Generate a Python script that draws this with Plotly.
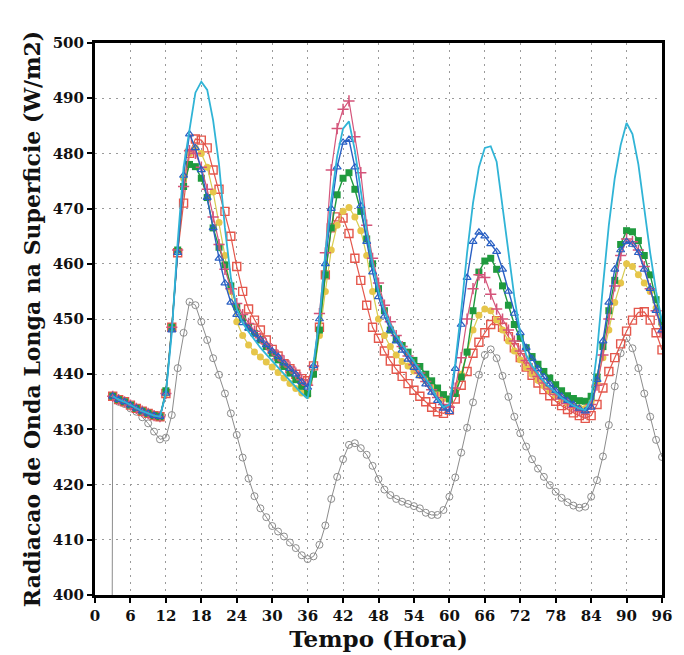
import plotly.graph_objects as go

hours = list(range(3, 97))
gray_hours = [2] + hours

start = [436.0, 435.4, 435.0, 434.4, 433.8, 433.3, 432.9, 432.5, 432.3]

cyan = start + [
    436.5, 447.5, 464.0, 477.5, 484.5, 491.0, 493.0, 491.5, 486.0, 478.0,
    466.5, 457.5, 451.8, 449.3, 447.7, 446.2, 444.8, 443.6, 442.4, 441.2,
    440.0, 439.0, 437.8, 436.5, 435.6, 442.0, 450.0, 462.0, 471.5, 479.5,
    484.5, 485.8, 480.5, 473.0, 466.0, 460.0, 455.0, 451.5, 449.0, 447.0,
    445.3, 443.8, 442.3, 440.8, 439.2, 437.6, 435.5, 434.0, 434.5, 442.0,
    451.5, 462.0, 471.0, 477.5, 481.0, 481.3, 478.5, 470.0, 461.5, 454.0,
    447.5, 443.5, 441.5, 440.0, 438.7, 437.6, 436.6, 435.7, 435.0, 434.3,
    433.8, 433.5, 435.5, 444.0, 456.0, 467.0, 475.5, 481.5, 485.5, 483.5,
    478.0, 469.5, 462.0, 455.0, 449.5]

blue = start + [
    436.5, 448.0, 462.0, 476.0, 483.5, 481.0, 477.0, 472.0, 466.5, 461.0,
    456.5, 453.0, 450.8, 449.3, 448.3, 447.3, 446.3, 445.3, 444.2, 443.2,
    442.0, 441.0, 440.0, 438.6, 437.6, 441.5, 450.0, 460.0, 470.0, 477.5,
    482.0, 482.5, 477.5, 470.5, 464.0, 458.5, 454.0, 450.5, 448.0, 446.0,
    444.3, 442.7, 441.2, 439.7, 438.2, 436.7, 435.2, 433.8, 433.2, 441.0,
    449.0, 457.5, 464.0, 465.7, 465.0, 463.6, 462.2, 459.0, 455.0, 451.0,
    447.5, 444.8, 442.8, 441.0, 439.5, 438.2, 437.0, 436.0, 435.2, 434.5,
    433.8, 433.3, 434.0, 439.0, 446.0, 453.0, 459.0, 462.5, 464.0, 463.5,
    462.0, 459.0, 455.5, 451.5, 448.0]

plus = start + [
    436.5, 448.5, 462.5, 474.0, 480.5, 480.0, 477.5, 473.5, 468.5, 463.5,
    459.0, 455.5, 452.8, 450.8, 449.2, 447.8, 446.6, 445.5, 444.4, 443.4,
    442.4, 441.3, 440.2, 439.0, 438.0, 441.5, 451.0, 462.0, 477.0, 484.5,
    488.0, 489.5, 483.0, 476.5, 467.0, 461.0, 456.5, 452.5, 449.5, 447.0,
    445.0, 443.3, 441.7, 440.2, 438.7, 437.2, 435.8, 434.5, 434.0, 437.5,
    443.0, 450.0, 455.5, 458.0, 457.5, 454.5, 451.8, 450.0, 448.0, 446.0,
    444.2, 442.5, 441.0, 439.6, 438.4, 437.3, 436.3, 435.5, 434.7, 434.0,
    433.4, 433.0, 434.5, 438.0, 443.5, 450.0, 456.0, 461.5, 464.5, 464.0,
    462.5, 459.5, 455.5, 451.5, 447.5]

green = start + [
    437.0, 448.5, 462.5, 474.0, 478.0, 477.6, 475.5, 472.0, 466.5, 463.0,
    459.8, 456.0, 452.2, 450.2, 448.5, 447.4, 446.2, 445.0, 443.8, 442.6,
    441.4, 440.2, 439.0, 437.8, 436.5, 440.0, 448.0, 458.0, 466.5, 472.5,
    475.5, 476.5, 473.5, 469.5, 464.5, 460.0, 455.5, 451.5, 448.0, 446.3,
    445.2, 444.0, 442.5, 441.4, 440.0, 438.8, 437.5, 436.3, 435.5, 436.5,
    439.5, 444.0, 451.5, 458.5, 460.5, 461.0, 459.0, 456.0, 452.5, 449.0,
    446.5, 444.8, 443.2, 441.8, 440.5, 439.3, 438.1, 437.0, 436.1, 435.6,
    435.2, 435.1, 436.0, 439.5, 445.0, 451.5, 457.0, 463.5, 466.0, 465.8,
    464.2, 461.5, 458.0, 453.5, 449.5]

yellow = start + [
    436.5, 448.5, 462.5, 475.5, 480.0, 481.0, 480.0, 477.5, 473.0, 467.5,
    461.5, 455.0, 449.5, 447.0, 445.3, 444.0, 443.1, 442.2, 441.3, 440.3,
    439.3, 438.3, 437.4, 436.6, 436.2, 440.0, 447.0, 455.0, 462.5, 467.0,
    469.5, 470.2, 468.5, 466.0, 461.5, 455.0, 450.0, 447.0, 445.0, 443.5,
    442.3, 441.5, 440.6, 439.8, 438.8, 437.6, 436.5, 435.6, 435.5, 437.0,
    440.0, 444.0, 448.0, 450.7, 451.8, 451.5, 449.8, 448.0, 446.0, 444.2,
    442.6, 441.2, 440.0, 438.9, 437.9, 437.0, 436.2, 435.5, 434.8, 434.3,
    433.9, 433.8, 435.0, 438.5, 443.0, 448.0, 453.0, 456.5, 460.0, 459.5,
    458.0, 456.5, 455.0, 452.0, 449.0]

red = start + [
    436.5, 448.5, 462.0, 471.0, 480.0, 482.6, 482.4, 481.0, 477.0, 473.5,
    469.5, 465.0, 459.5, 455.0, 451.8, 449.8, 448.0, 446.2, 444.5, 443.3,
    441.9, 441.0, 440.0, 439.2, 438.8, 441.5, 448.5, 458.0, 466.5, 468.5,
    468.3, 465.5, 461.0, 457.0, 452.5, 448.5, 446.5, 444.2, 442.4, 440.9,
    439.6, 438.3, 437.1, 436.0, 435.0, 434.0, 433.2, 432.9, 433.5, 435.5,
    438.0, 440.5, 443.8, 445.8, 447.5, 449.0, 449.7, 448.5, 446.8, 444.8,
    443.0, 441.3, 439.8, 438.4, 437.2, 436.1, 435.1, 434.3, 433.6, 433.0,
    432.5, 432.0, 432.5, 434.5, 437.5, 440.5, 443.0, 445.5, 447.8, 449.8,
    451.2, 451.3, 449.8, 447.5, 444.4]

gray = [0.0,
    436.0, 435.0, 434.6, 433.8, 433.2, 432.2, 431.1, 429.6, 428.2, 428.5,
    432.6, 441.1, 447.5, 453.1, 452.5, 449.5, 446.2, 442.9, 439.9, 436.5,
    432.9, 429.0, 424.9, 421.1, 417.9, 415.7, 414.1, 412.5, 411.5, 410.6,
    409.5, 408.5, 407.2, 406.5, 407.0, 409.1, 412.6, 417.4, 421.4, 424.6,
    427.2, 427.5, 426.6, 425.4, 423.4, 421.0, 419.1, 418.1, 417.4, 416.9,
    416.5, 416.1, 415.7, 414.9, 414.5, 414.5, 415.4, 417.8, 421.3, 425.8,
    430.3, 434.9, 439.9, 443.5, 444.5, 442.9, 439.7, 435.9, 432.3, 429.3,
    426.9, 424.6, 422.9, 421.4, 419.9, 418.7, 417.6, 416.8, 416.2, 415.8,
    416.0, 417.8, 420.8, 425.1, 430.8, 437.8, 443.8, 446.5, 444.7, 441.1,
    436.5, 432.3, 428.1, 425.0]

xticks = list(range(0, 97, 6))
yticks = list(range(400, 501, 10))

fig = go.Figure()

fig.add_trace(go.Scatter(x=gray_hours, y=gray, mode="lines+markers",
                         line=dict(color="#8c8c8c", width=1),
                         marker=dict(symbol="circle-open", size=7, color="#8c8c8c",
                                     line=dict(width=1))))
fig.add_trace(go.Scatter(x=hours, y=red, mode="lines+markers",
                         line=dict(color="#e4574c", width=1.2),
                         marker=dict(symbol="square-open", size=8, color="#e4574c",
                                     line=dict(width=1.4))))
fig.add_trace(go.Scatter(x=hours, y=yellow, mode="lines+markers",
                         line=dict(color="#d8cc50", width=1.2),
                         marker=dict(symbol="circle", size=7, color="#e6c64a")))
fig.add_trace(go.Scatter(x=hours, y=green, mode="lines+markers",
                         line=dict(color="#1f9a3e", width=1.4),
                         marker=dict(symbol="square", size=7, color="#1f9a3e")))
fig.add_trace(go.Scatter(x=hours, y=plus, mode="lines+markers",
                         line=dict(color="#d4547a", width=1.2),
                         marker=dict(symbol="cross-thin", size=8, color="#d4547a",
                                     line=dict(width=1.5, color="#d4547a"))))
fig.add_trace(go.Scatter(x=hours, y=blue, mode="lines+markers",
                         line=dict(color="#2a60c4", width=1.4),
                         marker=dict(symbol="triangle-up-open", size=7, color="#2a60c4",
                                     line=dict(width=1.2))))
fig.add_trace(go.Scatter(x=hours, y=cyan, mode="lines",
                         line=dict(color="#30b4d6", width=1.8)))

axis_font = dict(family="DejaVu Serif", size=15, color="#111", weight="bold")
grid_dash = "2px,5px"

fig.update_layout(
    width=684, height=655,
    margin=dict(l=95, r=12, t=43, b=60),
    paper_bgcolor="white", plot_bgcolor="white",
    showlegend=False,
    xaxis=dict(range=[0, 96], tickvals=xticks, ticktext=[str(v) for v in xticks],
               ticks="outside", ticklen=5, tickwidth=1.5, tickcolor="black",
               showline=True, linecolor="black", linewidth=3, mirror=True,
               showgrid=True, gridcolor="#9a9a9a", griddash=grid_dash, gridwidth=1.2,
               zeroline=False, tickfont=axis_font,
               title=dict(text="Tempo (Hora)", standoff=2,
                          font=dict(family="DejaVu Serif", size=23, color="#111",
                                    weight="bold"))),
    yaxis=dict(range=[400, 500], tickvals=yticks,
               ticks="outside", ticklen=5, tickwidth=1.5, tickcolor="black",
               showline=True, linecolor="black", linewidth=3, mirror=True,
               showgrid=True, gridcolor="#9a9a9a", griddash=grid_dash, gridwidth=1.2,
               zeroline=False, tickfont=axis_font,
               title=dict(text="Radiacao de Onda Longa na Superficie (W/m2)", standoff=6,
                          font=dict(family="DejaVu Serif", size=22, color="#111",
                                    weight="bold"))),
)

fig.write_html("out.html")
